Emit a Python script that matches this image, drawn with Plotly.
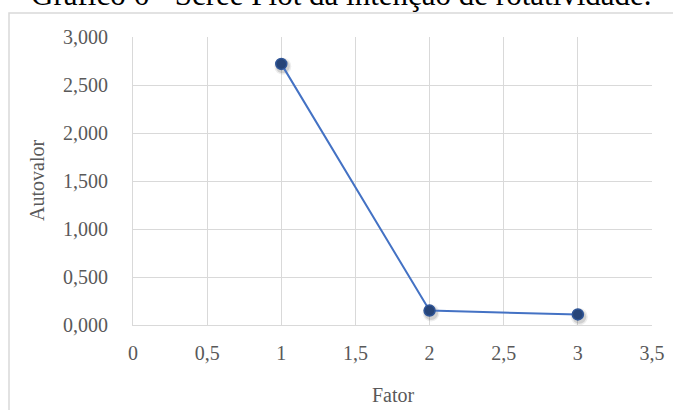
import plotly.graph_objects as go

# Scree plot values
fatores = [1, 2, 3]
autovalores = [2.72, 0.15, 0.11]

x_ticks = [0, 0.5, 1, 1.5, 2, 2.5, 3, 3.5]
x_labels = ["0", "0,5", "1", "1,5", "2", "2,5", "3", "3,5"]
y_ticks = [0, 0.5, 1, 1.5, 2, 2.5, 3]
y_labels = ["0,000", "0,500", "1,000", "1,500", "2,000", "2,500", "3,000"]

W, H = 673, 410
L, R, T, B = 133, 21, 37, 85
pw, ph = W - L - R, H - T - B


def px_x(p):
    return (p - L) / pw


def px_y(p):
    return (H - B - p) / ph


font = "Liberation Serif, Times New Roman, serif"
grey = "#595959"

fig = go.Figure()
# soft shadow under markers
for sz, a in [(17, 0.07), (14, 0.12)]:
    fig.add_trace(go.Scatter(
        x=[f + 0.01 for f in fatores], y=[v - 0.025 for v in autovalores],
        mode="markers",
        marker=dict(size=sz, color=f"rgba(0,0,0,{a})", line=dict(width=0)),
        hoverinfo="skip", showlegend=False,
    ))
fig.add_trace(go.Scatter(
    x=fatores, y=autovalores, mode="lines+markers",
    line=dict(color="#4472C4", width=2),
    marker=dict(size=11, color="#264478", line=dict(color="#2F5597", width=1.5)),
    showlegend=False,
))

fig.update_xaxes(
    range=[0, 3.5], tickvals=x_ticks, ticktext=x_labels,
    showgrid=True, gridcolor="#d9d9d9", gridwidth=1,
    zeroline=False, showline=True, linecolor="#d9d9d9",
    ticks="", ticklabelstandoff=10, automargin=False,
    tickfont=dict(family=font, size=20, color=grey),
)
fig.update_yaxes(
    range=[0, 3], tickvals=y_ticks, ticktext=y_labels,
    showgrid=True, gridcolor="#d9d9d9", gridwidth=1,
    zeroline=False, showline=True, linecolor="#d9d9d9",
    ticks="", ticklabelstandoff=20, automargin=False,
    tickfont=dict(family=font, size=20, color=grey),
)

# axis titles
fig.add_annotation(
    text="Fator", xref="paper", yref="paper", x=px_x(393), y=px_y(395),
    xanchor="center", yanchor="middle", showarrow=False,
    font=dict(family=font, size=20, color=grey),
)
fig.add_annotation(
    text="Autovalor", xref="paper", yref="paper", x=px_x(37), y=px_y(181),
    xanchor="center", yanchor="middle", showarrow=False, textangle=-90,
    font=dict(family=font, size=20, color=grey),
)

# outer chart border
fig.add_shape(
    type="rect", xref="paper", yref="paper",
    x0=px_x(9), x1=px_x(690), y0=px_y(430), y1=px_y(13),
    line=dict(color="#d9d9d9", width=1.5), fillcolor="rgba(0,0,0,0)", layer="below",
)

fig.add_annotation(
    text="Gráfico 6 - Scree Plot da intenção de rotatividade.",
    xref="paper", yref="paper", x=px_x(341), y=px_y(14),
    xanchor="center", yanchor="bottom", showarrow=False,
    font=dict(family=font, size=31, color="#000000"),
)

fig.update_layout(
    width=W, height=H,
    margin=dict(l=L, r=R, t=T, b=B, autoexpand=False),
    paper_bgcolor="white", plot_bgcolor="white",
)

fig.write_html("out.html")
